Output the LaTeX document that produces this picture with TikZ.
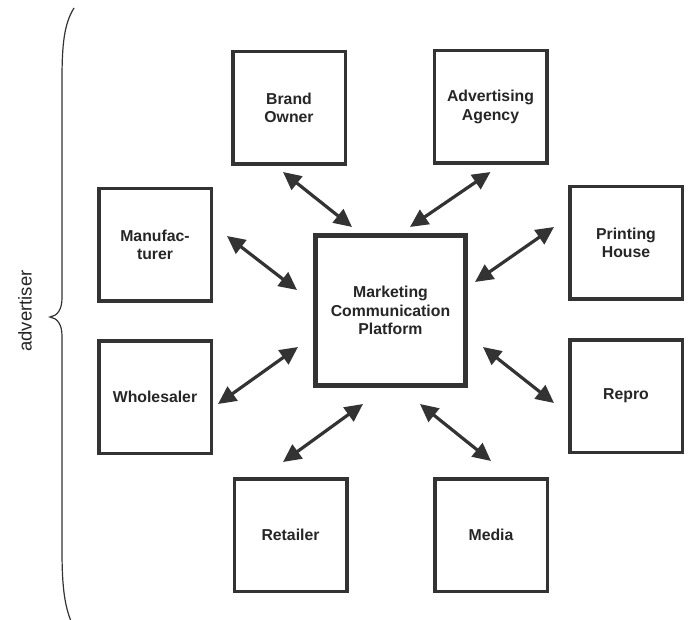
\documentclass[tikz,border=0pt]{standalone}
\usepackage{fontspec}
\setmainfont{Liberation Sans}
\usetikzlibrary{arrows.meta}
\definecolor{ink}{HTML}{333333}
\definecolor{txt}{HTML}{262626}
\begin{document}
\begin{tikzpicture}[x=1pt,y=-1pt,
  party/.style={draw=ink, line width=3.5pt, fill=white, inner sep=0pt,
    minimum width=112.5pt, minimum height=112.5pt, align=center, text=txt,
    font=\bfseries\fontsize{15.8}{18.5}\selectfont},
  hub/.style={party, line width=5pt, minimum width=150pt, minimum height=150pt},
  link/.style={draw=ink, line width=3.2pt,
    {Triangle[length=18pt,width=17pt]}-{Triangle[length=18pt,width=17pt]}}
]
\useasboundingbox (0,0) rectangle (688,620);

% central platform
\node[hub] (mcp) at (390.5,310.5) {Marketing\\Communication\\Platform};

% surrounding parties
\node[party] (brand)  at (289,108)   {Brand\\Owner};
\node[party] (agency) at (490.5,107) {Advertising\\Agency};
\node[party] (manu)   at (155,245)   {Manufac-\\turer};
\node[party] (print)  at (626,243)   {Printing\\House};
\node[party] (whole)  at (155,397)   {Wholesaler};
\node[party] (repro)  at (626,396)   {Repro};
\node[party] (retail) at (290.5,535) {Retailer};
\node[party] (media)  at (491,535)   {Media};

% two-way links to the platform
\draw[link] ([shift={(-6,6)}]brand.south)   -- ([shift={(-38.5,-6)}]mcp.north);
\draw[link] ([shift={(0,7)}]agency.south)   -- ([shift={(19.5,-6)}]mcp.north);
\draw[link] ([shift={(14,-9)}]manu.east)    -- ([shift={(-16,-20.5)}]mcp.west);
\draw[link] ([shift={(-14,-16)}]print.west) -- ([shift={(7,-28.5)}]mcp.east);
\draw[link] ([shift={(5,7)}]whole.east)     -- ([shift={(-15,36.5)}]mcp.west);
\draw[link] ([shift={(-14,7)}]repro.west)   -- ([shift={(15,36.5)}]mcp.east);
\draw[link] ([shift={(-7.5,-15)}]retail.north) -- ([shift={(-27.5,16)}]mcp.south);
\draw[link] ([shift={(0,-16)}]media.north)  -- ([shift={(29.5,16)}]mcp.south);

% brace grouping the advertiser side
\draw[ink, line width=1.2pt]
  (74,8) .. controls (64,24) and (62,45) .. (62,80)
  -- (62,298) .. controls (62,310) and (57,316) .. (50,317)
  .. controls (57,318) and (62,324) .. (62,336)
  -- (62,550) .. controls (62,590) and (65,608) .. (73,626);
\node[rotate=90, text=txt, font=\fontsize{18.5}{22}\selectfont] (adv) at (25,311) {advertiser};
\end{tikzpicture}
\end{document}
